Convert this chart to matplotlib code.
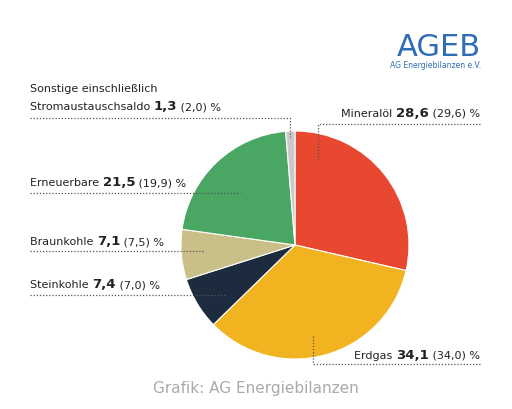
import matplotlib
matplotlib.use("Agg")
import matplotlib.pyplot as plt
from matplotlib.lines import Line2D

categories = ["Mineralöl", "Erdgas", "Steinkohle", "Braunkohle", "Erneuerbare", "Sonstige"]
values = [28.6, 34.1, 7.4, 7.1, 21.5, 1.3]
prev_values = ["29,6", "34,0", "7,0", "7,5", "19,9", "2,0"]
value_labels = ["28,6", "34,1", "7,4", "7,1", "21,5", "1,3"]
colors = ["#E8482F", "#F2B320", "#1C2B3E", "#C9BF88", "#4AA763", "#C9C9C9"]

W, H = 512, 409
fig = plt.figure(figsize=(W/100, H/100), dpi=100)
plt.rcParams['font.family'] = ['Liberation Sans Narrow', 'DejaVu Sans']
FS = 8
cx, cy, r = 295, 245, 114
ax = fig.add_axes([(cx-r)/W, (H-cy-r)/H, 2*r/W, 2*r/H])
ax.pie(values, colors=colors, startangle=90, counterclock=False,
       wedgeprops=dict(edgecolor="white", linewidth=0.8))
ax.set_xlim(-1, 1); ax.set_ylim(-1, 1)
ax.set_aspect('equal')

def fx(x): return x / W
def fy(y): return 1 - y / H

fig.canvas.draw()
rend = fig.canvas.get_renderer()

def label(x, y, name, val, prev, ha="left"):
    parts = [(name + " ", "normal"), (val, "bold"), (" (" + prev + ") %", "normal")]
    objs = []
    for s, w in parts:
        t = fig.text(0, fy(y), s, fontsize=FS if w == "normal" else FS + 1.5,
                     fontweight=w, va="baseline", color="#222222")
        objs.append(t)
    widths = [t.get_window_extent(rend).width for t in objs]
    total = sum(widths)
    start = x if ha == "left" else x - total
    for t, wdt in zip(objs, widths):
        t.set_x(fx(start))
        start += wdt

def line(pts):
    xs = [fx(p[0]) for p in pts]; ys = [fy(p[1]) for p in pts]
    fig.add_artist(Line2D(xs, ys, color="#555555", lw=0.9, linestyle=(0, (1, 1.5))))

fig.text(fx(30), fy(92), "Sonstige einschließlich", fontsize=FS, va="baseline", color="#222222")
label(30, 110, "Stromaustauschsaldo", value_labels[5], prev_values[5])
line([(30, 118), (290, 118), (290, 137)])

label(480, 117, categories[0], value_labels[0], prev_values[0], ha="right")
line([(480, 124), (318, 124), (318, 160)])

label(30, 186, categories[4], value_labels[4], prev_values[4])
line([(30, 193), (240, 193)])

label(30, 245, categories[3], value_labels[3], prev_values[3])
line([(30, 251), (205, 251)])

label(30, 288, categories[2], value_labels[2], prev_values[2])
line([(30, 295), (225, 295)])

label(480, 359, categories[1], value_labels[1], prev_values[1], ha="right")
line([(480, 364), (313, 364), (313, 335)])

fig.text(fx(481), fy(56), "AGEB", fontsize=22, color="#2F6DB5", ha="right", va="baseline")
fig.text(fx(481), fy(68), "AG Energiebilanzen e.V.", fontsize=5.5, color="#2F6DB5", ha="right", va="baseline")

fig.text(0.5, fy(393), "Grafik: AG Energiebilanzen", fontsize=11, color="#AAAAAA", ha="center", va="baseline",
         family=['DejaVu Sans'])

fig.savefig("out.png", dpi=100)
